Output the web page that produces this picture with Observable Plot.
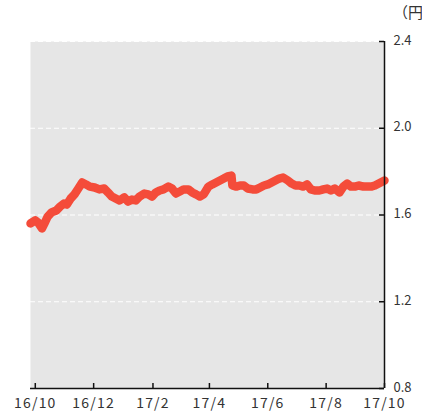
<!DOCTYPE html>
<html>
<head>
<meta charset="utf-8">
<script src="https://cdn.jsdelivr.net/npm/d3@7"></script>
<script src="https://cdn.jsdelivr.net/npm/@observablehq/plot@0.6"></script>
<style>
  html, body { margin: 0; padding: 0; background: #fff; overflow: hidden; }
  #wrap { position: relative; width: 422px; height: 413px; }
  #unit { position: absolute; left: 393px; top: 1px; font: 15px "Noto Sans CJK JP", sans-serif; color: #333; white-space: nowrap; }
  #chart { position: absolute; left: 0; top: 0; }
  #chart g[aria-label="x-axis tick label"] text { letter-spacing: 1.2px; }
</style>
</head>
<body>
<div id="wrap">
  <div id="chart"></div>
  <div id="unit">（円）</div>
</div>
<script>
const dates = [
  "2016-09-26","2016-10-01","2016-10-04","2016-10-08","2016-10-11","2016-10-14","2016-10-18","2016-10-23",
  "2016-10-27","2016-10-31","2016-11-03","2016-11-07","2016-11-11","2016-11-15","2016-11-19","2016-11-23",
  "2016-11-27","2016-12-02","2016-12-07","2016-12-12","2016-12-16","2016-12-20","2016-12-24","2016-12-28",
  "2017-01-02","2017-01-06","2017-01-10","2017-01-14","2017-01-18","2017-01-23","2017-01-27","2017-01-31",
  "2017-02-04","2017-02-08","2017-02-12","2017-02-17","2017-02-21","2017-02-25","2017-03-01","2017-03-05",
  "2017-03-10","2017-03-14","2017-03-18","2017-03-22","2017-03-26","2017-03-31","2017-04-04","2017-04-08",
  "2017-04-12","2017-04-16","2017-04-20","2017-04-24","2017-04-25","2017-04-29","2017-05-03","2017-05-07",
  "2017-05-11","2017-05-16","2017-05-20","2017-05-24","2017-05-28","2017-06-01","2017-06-05","2017-06-09",
  "2017-06-13","2017-06-17","2017-06-22","2017-06-26","2017-06-30","2017-07-04","2017-07-08","2017-07-12",
  "2017-07-16","2017-07-20","2017-07-25","2017-07-29","2017-08-02","2017-08-06","2017-08-10","2017-08-15",
  "2017-08-19","2017-08-23","2017-08-27","2017-08-31","2017-09-04","2017-09-09","2017-09-13","2017-09-17",
  "2017-09-21","2017-09-25","2017-10-01"
];
const values = [
  1.561,1.575,1.565,1.538,1.565,1.593,1.612,1.621,
  1.639,1.653,1.648,1.676,1.695,1.722,1.750,1.741,
  1.731,1.727,1.718,1.722,1.704,1.685,1.676,1.667,
  1.681,1.662,1.671,1.667,1.685,1.699,1.695,1.685,
  1.704,1.713,1.718,1.731,1.722,1.699,1.708,1.718,
  1.718,1.704,1.695,1.685,1.695,1.731,1.741,1.750,
  1.759,1.768,1.778,1.782,1.736,1.731,1.736,1.736,
  1.722,1.718,1.718,1.727,1.736,1.741,1.750,1.759,
  1.768,1.773,1.759,1.745,1.736,1.736,1.731,1.741,
  1.718,1.713,1.713,1.718,1.722,1.713,1.722,1.704,
  1.731,1.745,1.731,1.731,1.736,1.731,1.731,1.731,
  1.736,1.745,1.759
];
const xTickDates = ["2016-10-01","2016-12-01","2017-02-01","2017-04-01","2017-06-01","2017-08-01","2017-10-01"];
const xTickLabels = ["16/10","16/12","17/2","17/4","17/6","17/8","17/10"];
const yTicks = [0.8, 1.2, 1.6, 2.0, 2.4];
const yTickLabels = ["0.8","1.2","1.6","2.0","2.4"];
const gridValues = [1.2, 1.6, 2.0, 2.4];

const parse = d3.utcParse("%Y-%m-%d");
const series = dates.map((d, i) => ({date: parse(d), value: values[i]}));
const xt = xTickDates.map(parse);
const xStart = parse("2016-09-26"), xEnd = parse("2017-10-01");

const W = 422, H = 413, mT = 41, mB = 25, mL = 30, mR = 38;
const innerH = H - mT - mB, innerW = W - mL - mR;

const chart = Plot.plot({
  width: W, height: H,
  marginTop: mT, marginBottom: mB, marginLeft: mL, marginRight: mR,
  style: {fontFamily: "'Noto Sans CJK JP', sans-serif", color: "#333", background: "transparent", overflow: "visible"},
  x: {type: "utc", domain: [xStart, xEnd]},
  y: {domain: [0.8, 2.4]},
  marks: [
    Plot.frame({fill: "#e6e6e6", stroke: null}),
    Plot.ruleY(gridValues, {stroke: "white", strokeWidth: 1.2, strokeDasharray: "5,3"}),
    Plot.line(series, {x: "date", y: "value", stroke: "#f44c3a", strokeWidth: 8.5, strokeLinecap: "round", strokeLinejoin: "round", curve: "linear"}),
    Plot.ruleX([xEnd], {stroke: "#111", strokeWidth: 1.5}),
    Plot.ruleY([0.8], {stroke: "#111", strokeWidth: 1.5}),
    Plot.ruleX(xt, {stroke: "#111", strokeWidth: 1.5, insetTop: innerH - 5}),
    Plot.ruleY(yTicks, {stroke: "#111", strokeWidth: 1.5, insetLeft: innerW - 5}),
    Plot.axisX(xt, {tickSize: 0, tickPadding: 10, tickFormat: (d, i) => xTickLabels[i], fontSize: 14, fill: "#333", label: null}),
    Plot.axisY(yTicks, {anchor: "right", tickSize: 0, tickPadding: 9, dy: -1, tickFormat: (d, i) => yTickLabels[i], fontSize: 13, fill: "#333", label: null})
  ]
});
document.getElementById("chart").appendChild(chart);
</script>
</body>
</html>
